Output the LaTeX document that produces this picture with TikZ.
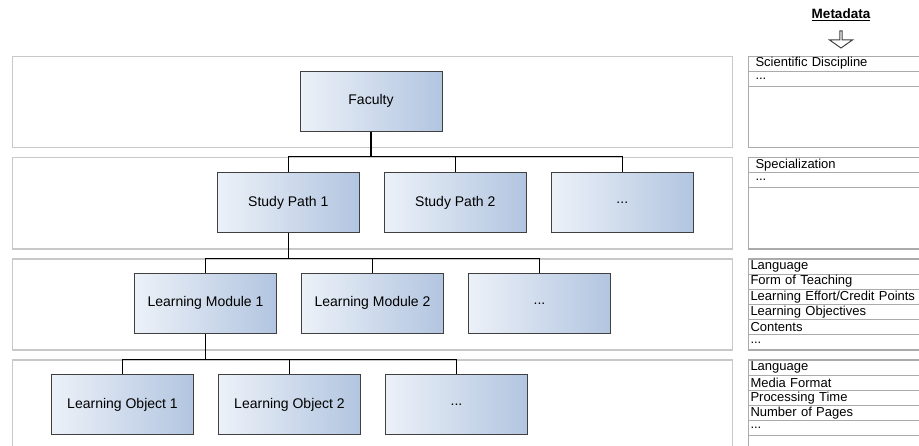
\documentclass[tikz,border=0pt]{standalone}
\usepackage{fontspec}
\setmainfont{Liberation Sans}
\usetikzlibrary{positioning,calc,shapes.arrows}
\definecolor{unitleft}{RGB}{236,241,248}
\definecolor{unitright}{RGB}{178,197,224}
\definecolor{unitline}{RGB}{64,64,64}
\definecolor{layerline}{RGB}{200,200,200}
\definecolor{metaline}{RGB}{170,170,170}
\tikzset{
  unit/.style={draw=unitline, line width=1pt, left color=unitleft, right color=unitright, minimum width=142pt, minimum height=60pt, inner sep=0pt, font=\fontsize{14}{16}\selectfont},
  layer/.style={draw=layerline, line width=1.3pt, minimum width=720pt, inner sep=0pt, anchor=north west},
  metabox/.style={draw=metaline, line width=1.2pt, minimum width=200pt, inner sep=0pt, anchor=north west},
  metarow/.style={draw=metaline, line width=1pt, minimum height=15.2pt, inner ysep=0pt, inner xsep=2pt, text width=186pt, align=left, anchor=north west, font=\fontsize{13}{15}\selectfont},
  link/.style={line width=1.3pt},
}
\newcommand{\moredots}{...}

\begin{document}
\begin{tikzpicture}[x=1pt, y=-1pt, node distance=24pt]
  \useasboundingbox (0,0) rectangle (919,445);
  \clip (0,0) rectangle (919,445);

  % layers
  \node[layer, minimum height=91.5pt] (lay1) at (12,55.5) {};
  \node[layer, minimum height=91.5pt] (lay2) at (12,156.8) {};
  \node[layer, minimum height=91pt] (lay3) at (12,258.3) {};
  \node[layer, minimum height=110pt] (lay4) at (12,359.3) {};

  % faculty
  \node[unit] (fac) at (371,101) {Faculty};

  % study paths
  \node[unit] (sp1) at (288.3,202.5) {Study Path 1};
  \node[unit, right=of sp1] (sp2) {Study Path 2};
  \node[unit, right=of sp2] (spx) {...};

  \draw[link] (fac.south) -- (fac.south |- lay2.north);
  \draw[link] (sp1.north) -- (sp1.north |- lay2.north) -| (spx.north);
  \draw[link] (sp2.north) -- (sp2.north |- lay2.north);

  % learning modules
  \node[unit] (lm1) at (205.5,303.3) {Learning Module 1};
  \node[unit, right=of lm1] (lm2) {Learning Module 2};
  \node[unit, right=of lm2] (lmx) {...};

  \draw[link] (sp1.south) -- (sp1.south |- lay3.north);
  \draw[link] (lm1.north) -- (lm1.north |- lay3.north) -| (lmx.north);
  \draw[link] (lm2.north) -- (lm2.north |- lay3.north);

  % learning objects
  \node[unit] (lo1) at (122.5,404.7) {Learning Object 1};
  \node[unit, right=of lo1] (lo2) {Learning Object 2};
  \node[unit, right=of lo2] (lox) {...};

  \draw[link] (lm1.south) -- (lm1.south |- lay4.north);
  \draw[link] (lo1.north) -- (lo1.north |- lay4.north) -| (lox.north);
  \draw[link] (lo2.north) -- (lo2.north |- lay4.north);

  % metadata
  \node[font=\bfseries\fontsize{13.5}{15}\selectfont] (mdtitle) at (841,15) {\underline{Metadata}};
  \node[single arrow, draw=unitline, line width=1pt, fill=white, shape border rotate=270,
    minimum width=23pt, minimum height=17pt, single arrow head extend=5pt,
    single arrow tip angle=110, inner sep=0pt, below=6pt of mdtitle] (mdarrow) {};

  \node[metabox, minimum height=91.5pt] (meta1) at (748,55.5) {};
  \foreach \txt [count=\i from 0] in {Scientific Discipline, \moredots}
    \node[metarow, inner xsep=7pt] (meta1r\i) at ($(meta1.north west)+(0,\i*15.2)$) {\txt};

  \node[metabox, minimum height=91.5pt] (meta2) at (748,156.8) {};
  \foreach \txt [count=\i from 0] in {Specialization, \moredots}
    \node[metarow, inner xsep=7pt] (meta2r\i) at ($(meta2.north west)+(0,\i*15.2)$) {\txt};

  \node[metabox, minimum height=91pt] (meta3) at (748,258.3) {};
  \foreach \txt [count=\i from 0] in {Language, Form of Teaching, Learning Effort/Credit Points, Learning Objectives, Contents, \moredots}
    \node[metarow] (meta3r\i) at ($(meta3.north west)+(0,\i*15.2)$) {\txt};

  \node[metabox, minimum height=110pt] (meta4) at (748,359.3) {};
  \foreach \txt [count=\i from 0] in {Language, Media Format, Processing Time, Number of Pages, \moredots, {}}
    \node[metarow] (meta4r\i) at ($(meta4.north west)+(0,\i*15.2)$) {\txt};
\end{tikzpicture}
\end{document}
